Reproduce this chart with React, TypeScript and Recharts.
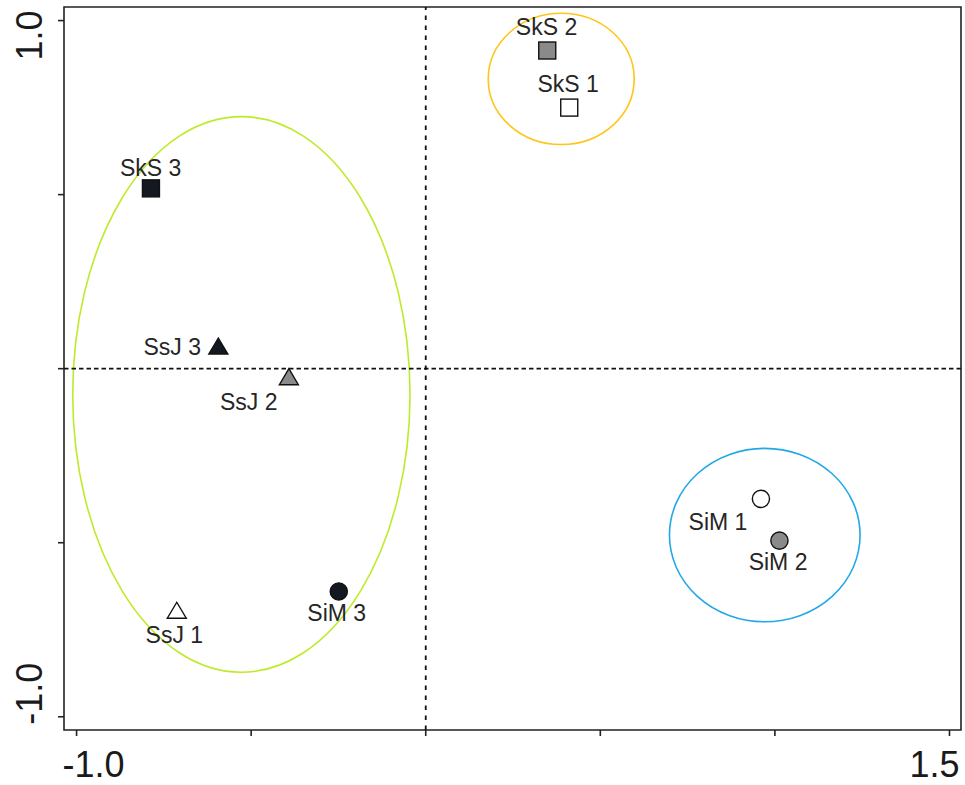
import React from "react";
import {
  ScatterChart,
  Scatter,
  XAxis,
  YAxis,
  ReferenceLine,
  ReferenceArea,
} from "recharts";

// ---- data ----
const sampleNames = ["SkS 1", "SkS 2", "SkS 3", "SsJ 1", "SsJ 2", "SsJ 3", "SiM 1", "SiM 2", "SiM 3"];
const dim1 = [0.411, 0.348, -0.787, -0.713, -0.392, -0.594, 0.96, 1.013, -0.249];
const dim2 = [0.75, 0.914, 0.518, -0.694, -0.023, 0.065, -0.374, -0.494, -0.64];
const markerShapes = ["square", "square", "square", "triangle", "triangle", "triangle", "circle", "circle", "circle"];
const markerFills = ["#ffffff", "#8a8a8a", "#141820", "#ffffff", "#8a8a8a", "#141820", "#ffffff", "#8a8a8a", "#141820"];
const labelDim1 = [0.408, 0.346, -0.788, -0.72, -0.507, -0.726, 0.837, 1.009, -0.255];
const labelDim2 = [0.817, 0.982, 0.578, -0.765, -0.096, 0.061, -0.44, -0.555, -0.701];

const ellipseCX = [-0.528, 0.388, 0.971];
const ellipseCY = [-0.074, 0.8325, -0.478];
const ellipseRX = [0.483, 0.209, 0.273];
const ellipseRY = [0.798, 0.1885, 0.249];
const ellipseColors = ["#BDEB2A", "#FFC519", "#22A8E8"];

const xTicks = [-1.0, -0.5, 0.0, 0.5, 1.0, 1.5];
const yTicks = [-1.0, -0.5, 0.0, 0.5, 1.0];
const xLabelled = [-1.0, 1.5];
const yLabelled = [-1.0, 1.0];

const X_DOMAIN: [number, number] = [-1.036, 1.533];
const Y_DOMAIN: [number, number] = [-1.038, 1.039];

const FONT = "'Liberation Sans', Arial, sans-serif";

const points = sampleNames.map((n, i) => ({
  name: n,
  x: dim1[i],
  y: dim2[i],
  shape: markerShapes[i],
  fill: markerFills[i],
}));

const labels = sampleNames.map((n, i) => ({
  name: n,
  x: labelDim1[i],
  y: labelDim2[i],
}));

const MarkerShape = (props: any) => {
  const { cx, cy, payload } = props;
  if (cx == null || cy == null) return <g />;
  const stroke = "#111";
  const sw = 1.4;
  if (payload.shape === "square") {
    const s = 17;
    return <rect x={cx - s / 2} y={cy - s / 2} width={s} height={s} fill={payload.fill} stroke={stroke} strokeWidth={sw} />;
  }
  if (payload.shape === "triangle") {
    const w = 19;
    const h = 16;
    const d = `M${cx},${cy - h / 2} L${cx + w / 2},${cy + h / 2} L${cx - w / 2},${cy + h / 2} Z`;
    return <path d={d} fill={payload.fill} stroke={stroke} strokeWidth={sw} strokeLinejoin="miter" />;
  }
  return <circle cx={cx} cy={cy} r={8.6} fill={payload.fill} stroke={stroke} strokeWidth={sw} />;
};

const LabelShape = (props: any) => {
  const { cx, cy, payload } = props;
  if (cx == null || cy == null) return <g />;
  return (
    <text x={cx} y={cy} dy="0.35em" textAnchor="middle" fontFamily={FONT} fontSize={23} fill="#262626">
      {payload.name}
    </text>
  );
};

const XTick = (props: any) => {
  const { x, y, payload } = props;
  const v = payload.value;
  if (!xLabelled.includes(v)) return <g />;
  const isMin = v === xLabelled[0];
  return (
    <text
      x={isMin ? x - 14 : x + 10}
      y={y + 41}
      textAnchor={isMin ? "start" : "end"}
      fontFamily={FONT}
      fontSize={36}
      fill="#1a1a1a"
    >
      {v.toFixed(1)}
    </text>
  );
};

const YTick = (props: any) => {
  const { x, y, payload } = props;
  const v = payload.value;
  if (!yLabelled.includes(v)) return <g />;
  const isMin = v === yLabelled[0];
  const tx = x - 16;
  const ty = isMin ? y + 8 : y - 10;
  return (
    <text
      x={tx}
      y={ty}
      transform={`rotate(-90, ${tx}, ${ty})`}
      textAnchor={isMin ? "start" : "end"}
      fontFamily={FONT}
      fontSize={36}
      fill="#1a1a1a"
    >
      {v.toFixed(1)}
    </text>
  );
};

const EllipseShape = (color: string) => (props: any) => {
  const { x, y, width, height } = props;
  if (x == null || width == null) return <g />;
  return (
    <ellipse
      cx={x + width / 2}
      cy={y + height / 2}
      rx={Math.abs(width) / 2}
      ry={Math.abs(height) / 2}
      fill="none"
      stroke={color}
      strokeWidth={1.6}
    />
  );
};

export default function App() {
  return (
    <div style={{ position: "absolute", left: 0, top: 0, width: 965, height: 785, background: "#fff" }}>
      <ScatterChart width={965} height={785} margin={{ top: 7, right: 4, bottom: 0, left: 0 }}>
        <XAxis
          type="number"
          dataKey="x"
          domain={X_DOMAIN}
          ticks={xTicks}
          allowDataOverflow
          axisLine={false}
          tickLine={{ stroke: "#222", strokeWidth: 1.6 }}
          tickSize={6}
          tickMargin={0}
          height={55}
          tick={<XTick />}
          interval={0}
        />
        <YAxis
          type="number"
          dataKey="y"
          domain={Y_DOMAIN}
          ticks={yTicks}
          allowDataOverflow
          axisLine={false}
          tickLine={{ stroke: "#222", strokeWidth: 1.6 }}
          tickSize={6}
          tickMargin={0}
          width={64}
          tick={<YTick />}
          interval={0}
        />
        <ReferenceArea
          x1={X_DOMAIN[0]}
          x2={X_DOMAIN[1]}
          y1={Y_DOMAIN[0]}
          y2={Y_DOMAIN[1]}
          fill="none"
          fillOpacity={0}
          stroke="#222"
          strokeWidth={1.6}
        />
        <ReferenceLine x={0} stroke="#111" strokeWidth={1.8} strokeDasharray="4.5 5.5" />
        <ReferenceLine y={0} stroke="#111" strokeWidth={1.6} strokeDasharray="4.5 3" />
        <Scatter data={labels} shape={<LabelShape />} isAnimationActive={false} />
        <Scatter data={points} shape={<MarkerShape />} isAnimationActive={false} />
        {ellipseCX.map((cx, i) => (
          <ReferenceArea
            key={i}
            x1={cx - ellipseRX[i]}
            x2={cx + ellipseRX[i]}
            y1={ellipseCY[i] - ellipseRY[i]}
            y2={ellipseCY[i] + ellipseRY[i]}
            shape={EllipseShape(ellipseColors[i])}
          />
        ))}
      </ScatterChart>
    </div>
  );
}
